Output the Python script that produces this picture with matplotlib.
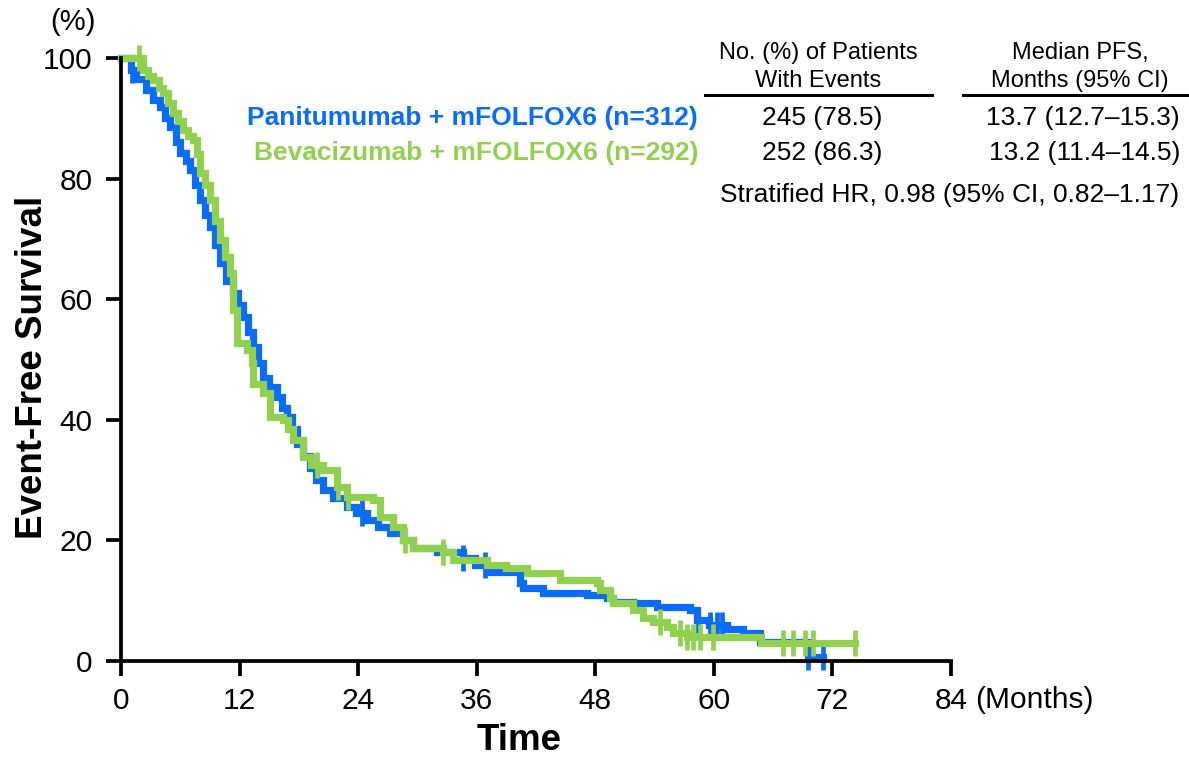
import numpy as np
import matplotlib
matplotlib.use('Agg')
import matplotlib.pyplot as plt

plt.rcParams['font.family'] = ['Liberation Sans', 'DejaVu Sans']

# Kaplan-Meier step points (months, % event-free)
pani_t = [0, 1.0, 1.5, 2.5, 3.2, 3.9, 4.5, 5.0, 5.6, 6.0, 6.6, 7.0, 7.5, 8.0, 8.5, 9.0, 9.5,
          10.0, 10.6, 11.3, 11.8, 12.3, 12.9, 13.4, 13.9, 14.4, 15.0, 15.8, 16.3, 16.8, 17.3,
          17.8, 18.4, 19.1, 19.7, 20.4, 21.5, 22.9, 23.8, 24.9, 26.0, 27.2, 28.5, 29.6, 32.0,
          34.6, 35.8, 37.0, 40.4, 40.7, 42.7, 47.2, 49.2, 49.8, 51.8, 54.2, 57.6, 58.3, 59.5,
          61.3, 62.9, 64.7, 69.5, 71.0]
pani_s = [100, 98, 96.5, 94.7, 93, 91.9, 90, 88.6, 86, 84.2, 83, 81.4, 79, 76.5, 74, 72, 69,
          66, 63, 61, 59, 57, 54.5, 52, 49.5, 47, 45.5, 43.8, 42, 40.5, 38.5,
          36, 34, 32, 30, 28.4, 27, 25.5, 24.5, 23.4, 22.3, 21.2, 20, 18.7, 18.1,
          17.1, 16, 14.8, 12.9, 12.1, 11.3, 11, 10.4, 9.8, 9.6, 9.0, 8.5, 6.8, 6.0,
          5.3, 4.6, 3.2, 0.6, 0.6]
pani_cens = [1.1, 24.4, 34.6, 36.8, 58.4, 59.6, 60.3, 60.8, 69.5, 71.0]

beva_t = [0, 2.2, 2.7, 3.2, 3.8, 4.3, 4.8, 5.3, 5.8, 6.3, 6.8, 7.3, 7.7, 8.0, 8.5, 9.0, 9.5,
          10.0, 10.5, 11.0, 11.3, 11.7, 12.8, 13.3, 13.4, 14.4, 15.1, 16.4, 16.9, 17.4, 18.4,
          19.2, 20.4, 21.9, 22.9, 25.5, 26.2, 27.5, 28.5, 29.6, 32.6, 33.6, 37.0, 39.0, 41.1,
          44.4, 48.2, 48.5, 49.5, 49.8, 51.8, 52.8, 53.8, 55.3, 55.9, 57.3, 64.8, 74.3]
beva_s = [100, 98, 97, 96.3, 95, 94.2, 92.5, 90.9, 89.5, 88, 87, 86.4, 84, 81, 79, 76.5, 73,
          69.8, 67, 64.3, 58.2, 52.7, 51.6, 49.4, 46, 44.4, 40.5, 40, 38.5, 36.6, 33.8,
          32.5, 31.7, 28.9, 27.2, 26.7, 23.9, 22.2, 20.1, 18.7, 18.1, 16.7, 15.9, 15.4, 14.6,
          13.4, 12.9, 11.8, 10.4, 9.6, 8.5, 7.1, 6.5, 5.6, 4.6, 4.0, 3.0, 3.0]
beva_cens = [1.8, 19.8, 22.0, 23.0, 28.7, 32.6, 54.5, 56.6, 57.3, 57.9, 58.6, 59.9,
             67.0, 68.0, 69.2, 70.0, 74.3]

x_ticks = [0, 12, 24, 36, 48, 60, 72, 84]
y_ticks = [0, 20, 40, 60, 80, 100]

BLUE = '#0A6CF7'
GREEN = '#92D050'


def km_at(t_list, s_list, t):
    idx = np.searchsorted(np.array(t_list), t, side='right') - 1
    return np.array(s_list)[idx]


W, H = 1189, 759
fig = plt.figure(figsize=(W / 100, H / 100), dpi=100)
ax = fig.add_axes([121 / W, 1 - 661 / H, (951 - 121) / W, (661 - 58) / H])

for t, s, cens, col in [(pani_t, pani_s, pani_cens, BLUE), (beva_t, beva_s, beva_cens, GREEN)]:
    ax.plot(t, s, drawstyle='steps-post', color=col, lw=5.2, clip_on=False,
            solid_joinstyle='miter')
    ax.plot(cens, km_at(t, s, cens), ls='none', marker='|', ms=19, mew=3.4,
            color=col, clip_on=False)

ax.set_xlim(0, 84)
ax.set_ylim(0, 100)
ax.set_xticks(x_ticks)
ax.set_yticks(y_ticks)
ax.tick_params(labelsize=21.5, length=10.5, width=2.7, direction='out')
ax.tick_params(axis='y', pad=10)
ax.tick_params(axis='x', pad=8)
for side in ['top', 'right']:
    ax.spines[side].set_visible(False)
for side in ['left', 'bottom']:
    ax.spines[side].set_linewidth(2.7)

fig.text(519 / W, 1 - 740 / H, 'Time', fontsize=26.5, fontweight='bold',
         ha='center', va='center')
fig.text(33 / W, 1 - 367 / H, 'Event-Free Survival', fontsize=26.5, fontweight='bold',
         ha='center', va='center', rotation=90)

fig.text(73 / W, 1 - 22 / H, '(%)', fontsize=21, ha='center', va='center')
fig.text(975 / W, 1 - 700 / H, '(Months)', fontsize=21.5, ha='left', va='center')

# legend text
fig.text(698 / W, 1 - 118 / H, 'Panitumumab + mFOLFOX6 (n=312)', color=BLUE,
         fontsize=19, fontweight='bold', ha='right', va='center')
fig.text(698 / W, 1 - 153 / H, 'Bevacizumab + mFOLFOX6 (n=292)', color=GREEN,
         fontsize=19, fontweight='bold', ha='right', va='center')

# summary table
fig.text(818 / W, 1 - 67 / H, 'No. (%) of Patients\nWith Events', fontsize=17,
         ha='center', va='center', linespacing=1.3)
fig.text(1080 / W, 1 - 67 / H, 'Median PFS,\nMonths (95% CI)', fontsize=17,
         ha='center', va='center', linespacing=1.3)
fig.add_artist(plt.Line2D([705 / W, 932 / W], [1 - 95 / H] * 2, color='black', lw=2.2))
fig.add_artist(plt.Line2D([963 / W, 1189 / W], [1 - 95 / H] * 2, color='black', lw=2.2))
fig.text(822 / W, 1 - 118 / H, '245 (78.5)', fontsize=19, ha='center', va='center')
fig.text(822 / W, 1 - 153 / H, '252 (86.3)', fontsize=19, ha='center', va='center')
fig.text(1180 / W, 1 - 118 / H, '13.7 (12.7\u201315.3)', fontsize=19, ha='right', va='center')
fig.text(1180 / W, 1 - 153 / H, '13.2 (11.4\u201314.5)', fontsize=19, ha='right', va='center')
fig.text(950 / W, 1 - 195 / H, 'Stratified HR, 0.98 (95% CI, 0.82\u20131.17)', fontsize=19,
         ha='center', va='center')

fig.savefig('out.png', dpi=100)
